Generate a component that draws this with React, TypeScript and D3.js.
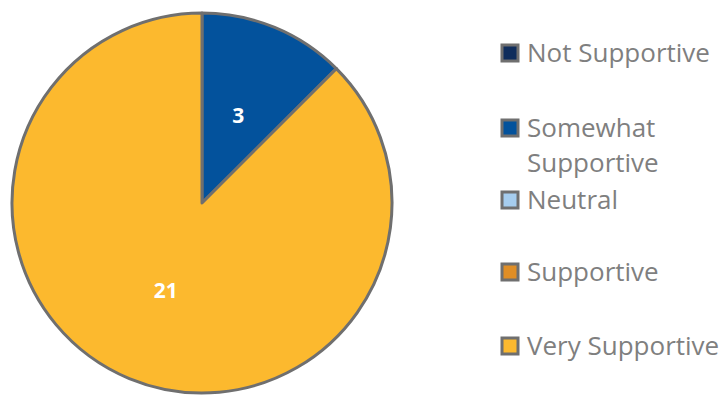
import * as d3 from "d3";

const categories = ["Not Supportive", "Somewhat Supportive", "Neutral", "Supportive", "Very Supportive"];
const values = [0, 3, 0, 0, 21];
const colors = ["#0f2d5c", "#03529c", "#a6cdee", "#e08e26", "#fcb92e"];
// legend label lines (Somewhat Supportive wraps)
const legendLines = [["Not Supportive"], ["Somewhat", "Supportive"], ["Neutral"], ["Supportive"], ["Very Supportive"]];
const legendY = [53, 128, 200, 272, 346];

const W = 727;
const H = 403;
const cx = 202;
const cy = 203;
const R = 190;

export default function App() {
    const pie = d3.pie<number>().sort(null).value((d) => d);
    const arcs = pie(values);
    const arc = d3.arc<d3.PieArcDatum<number>>().innerRadius(0).outerRadius(R);
    const labelArc = d3.arc<d3.PieArcDatum<number>>().innerRadius(R * 0.5).outerRadius(R * 0.5);

    return (
        <svg width={W} height={H} style={{ position: "absolute", left: 0, top: 0 }}>
            <rect width={W} height={H} fill="#ffffff" />
            <g transform={`translate(${cx},${cy})`}>
                {arcs.map((a, i) =>
                    a.value > 0 ? (
                        <path key={i} d={arc(a) ?? ""} fill={colors[i]} stroke="#6f6f6f" strokeWidth={3} strokeLinejoin="round" />
                    ) : null
                )}
                {arcs.map((a, i) => {
                    if (a.value <= 0) return null;
                    const [x, y] = labelArc.centroid(a);
                    return (
                        <text
                            key={`l${i}`}
                            x={x}
                            y={y}
                            dy="0.35em"
                            textAnchor="middle"
                            fill="#ffffff"
                            fontFamily="Open Sans, sans-serif"
                            fontWeight="bold"
                            fontSize={21}
                        >
                            {a.value}
                        </text>
                    );
                })}
            </g>
            <g>
                {categories.map((c, i) => (
                    <g key={c} transform={`translate(502,${legendY[i]})`}>
                        <rect x={0} y={-8} width={16} height={16} fill={colors[i]} stroke="#6f6f6f" strokeWidth={3} />
                        {legendLines[i].map((line, j) => (
                            <text
                                key={j}
                                x={25}
                                y={j * 35}
                                dy="0.35em"
                                fill="#7f7f7f"
                                fontFamily="Open Sans, sans-serif"
                                fontSize={26}
                            >
                                {line}
                            </text>
                        ))}
                    </g>
                ))}
            </g>
        </svg>
    );
}
